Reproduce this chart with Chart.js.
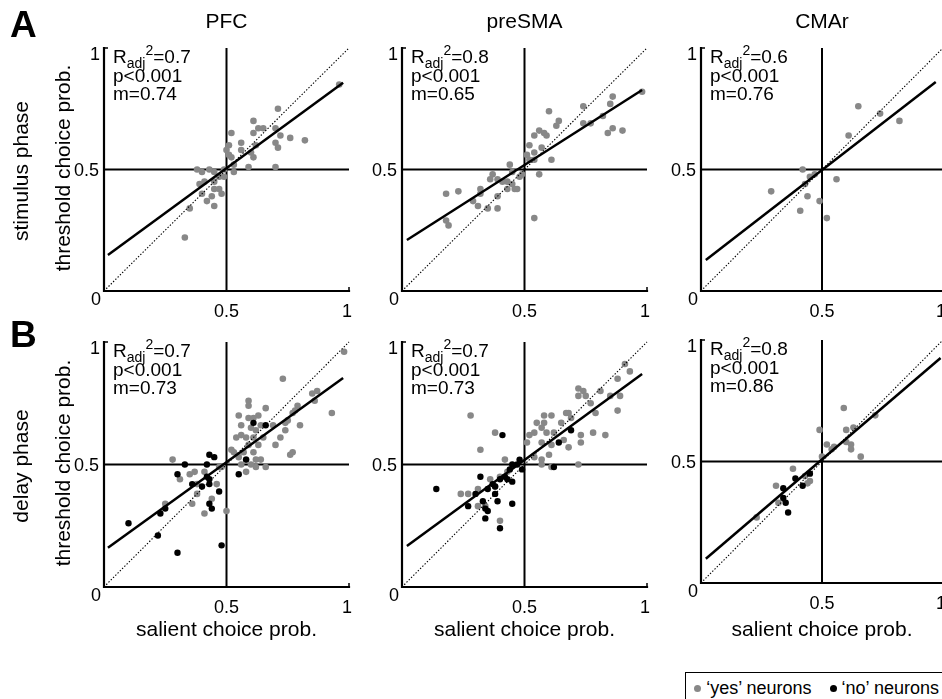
<!DOCTYPE html>
<html><head><meta charset="utf-8">
<script src="https://cdn.jsdelivr.net/npm/chart.js@4.4.1/dist/chart.umd.min.js"></script>
<style>
html,body{margin:0;padding:0;background:#fff;overflow:hidden;}
body{width:942px;height:699px;position:relative;font-family:"Liberation Sans",Arial,Helvetica,sans-serif;color:#000;}
canvas{position:absolute;}
.t{position:absolute;white-space:nowrap;}
.rot{position:absolute;white-space:nowrap;transform:translate(-50%,-50%) rotate(-90deg);}
.ann .sub{font-size:14px;position:relative;top:5px;}
.ann .sup{font-size:14px;position:relative;top:-8px;}
#legend{position:absolute;right:-2px;top:672px;height:40px;border:1.5px solid #000;background:#fff;font-size:18px;line-height:18px;padding:6px 4px 0 8px;white-space:nowrap;}
.dot{display:inline-block;width:7px;height:7px;border-radius:50%;vertical-align:2px;margin-right:5px;}
</style></head><body>
<script>
// ---------- categories / labels ----------
const regions = ['PFC', 'preSMA', 'CMAr'];
const phases = ['stimulus phase', 'delay phase'];
const panelLetters = ['A', 'B'];
const tickLabels = ['0', '0.5', '1'];
const tickValues = [0, 0.5, 1];
const yAxisLabel = 'threshold choice prob.';
const xAxisLabel = 'salient choice prob.';
const legendLabels = ['\u2018yes\u2019 neurons', '\u2018no\u2019 neurons'];
const rAdj2 = [['0.7', '0.8', '0.6'], ['0.7', '0.7', '0.8']];
const pText = [['p<0.001', 'p<0.001', 'p<0.001'], ['p<0.001', 'p<0.001', 'p<0.001']];
const slopes = [['0.74', '0.65', '0.76'], ['0.73', '0.73', '0.86']];

// ---------- data (salient CP, threshold CP) ----------
const pfcStimYes = [[0.96,0.85],[0.71,0.75],[0.61,0.70],[0.63,0.67],[0.65,0.67],[0.61,0.65],[0.70,0.67],[0.52,0.65],[0.72,0.64],[0.76,0.63],[0.82,0.62],[0.70,0.61],[0.71,0.59],[0.51,0.60],[0.56,0.61],[0.62,0.60],[0.50,0.58],[0.56,0.58],[0.60,0.57],[0.61,0.55],[0.51,0.56],[0.52,0.55],[0.59,0.51],[0.70,0.51],[0.53,0.52],[0.53,0.49],[0.38,0.50],[0.43,0.50],[0.40,0.49],[0.45,0.49],[0.47,0.47],[0.41,0.45],[0.45,0.45],[0.39,0.44],[0.45,0.42],[0.47,0.42],[0.48,0.40],[0.40,0.40],[0.44,0.39],[0.42,0.37],[0.45,0.35],[0.35,0.34],[0.33,0.22],[0.49,0.50],[0.49,0.47]];
const pfcStimNo = [];
const presmaStimYes = [[0.98,0.82],[0.86,0.80],[0.85,0.77],[0.74,0.76],[0.60,0.74],[0.82,0.72],[0.64,0.70],[0.63,0.68],[0.74,0.69],[0.77,0.69],[0.56,0.66],[0.54,0.64],[0.58,0.65],[0.59,0.64],[0.84,0.65],[0.86,0.67],[0.90,0.66],[0.52,0.60],[0.57,0.59],[0.54,0.57],[0.51,0.56],[0.52,0.54],[0.54,0.54],[0.61,0.54],[0.56,0.48],[0.44,0.52],[0.45,0.49],[0.49,0.48],[0.48,0.47],[0.37,0.48],[0.36,0.46],[0.39,0.46],[0.41,0.45],[0.43,0.45],[0.45,0.44],[0.43,0.42],[0.46,0.42],[0.47,0.42],[0.32,0.42],[0.32,0.40],[0.23,0.41],[0.18,0.40],[0.29,0.37],[0.31,0.35],[0.39,0.39],[0.35,0.34],[0.39,0.34],[0.18,0.29],[0.19,0.27],[0.54,0.30]];
const presmaStimNo = [];
const cmarStimYes = [[0.65,0.76],[0.74,0.73],[0.82,0.70],[0.61,0.64],[0.42,0.50],[0.45,0.47],[0.47,0.48],[0.43,0.44],[0.56,0.46],[0.29,0.41],[0.44,0.39],[0.49,0.37],[0.41,0.33],[0.52,0.30]];
const cmarStimNo = [];
const pfcDelayYes = [[0.98,0.96],[0.73,0.85],[0.87,0.80],[0.85,0.79],[0.86,0.76],[0.93,0.71],[0.59,0.76],[0.59,0.74],[0.66,0.73],[0.79,0.74],[0.78,0.72],[0.77,0.71],[0.55,0.70],[0.59,0.69],[0.63,0.70],[0.61,0.69],[0.75,0.68],[0.74,0.67],[0.69,0.66],[0.80,0.66],[0.56,0.66],[0.60,0.65],[0.64,0.66],[0.62,0.64],[0.56,0.62],[0.54,0.61],[0.58,0.61],[0.61,0.61],[0.65,0.61],[0.74,0.64],[0.72,0.61],[0.59,0.58],[0.63,0.58],[0.70,0.58],[0.53,0.55],[0.57,0.55],[0.52,0.56],[0.61,0.55],[0.77,0.55],[0.76,0.54],[0.55,0.53],[0.58,0.52],[0.62,0.52],[0.64,0.52],[0.60,0.50],[0.62,0.49],[0.66,0.49],[0.56,0.50],[0.58,0.47],[0.28,0.52],[0.35,0.46],[0.37,0.47],[0.31,0.44],[0.41,0.47],[0.38,0.42],[0.38,0.38],[0.46,0.42],[0.48,0.49],[0.44,0.36],[0.25,0.34],[0.36,0.34],[0.41,0.30],[0.50,0.31],[0.47,0.49]];
const pfcDelayNo = [[0.61,0.67],[0.66,0.66],[0.43,0.54],[0.45,0.53],[0.33,0.50],[0.42,0.50],[0.58,0.52],[0.55,0.46],[0.30,0.46],[0.42,0.45],[0.43,0.44],[0.36,0.42],[0.40,0.41],[0.43,0.42],[0.47,0.39],[0.43,0.34],[0.44,0.32],[0.25,0.32],[0.23,0.30],[0.10,0.26],[0.22,0.21],[0.30,0.14],[0.48,0.17]];
const presmaDelayYes = [[0.91,0.91],[0.93,0.88],[0.88,0.85],[0.72,0.81],[0.74,0.80],[0.72,0.78],[0.75,0.78],[0.81,0.80],[0.85,0.78],[0.89,0.78],[0.88,0.72],[0.77,0.75],[0.28,0.70],[0.68,0.71],[0.67,0.71],[0.58,0.70],[0.61,0.70],[0.69,0.69],[0.79,0.71],[0.55,0.67],[0.58,0.67],[0.65,0.67],[0.57,0.65],[0.54,0.63],[0.59,0.63],[0.62,0.63],[0.52,0.62],[0.73,0.62],[0.78,0.63],[0.83,0.62],[0.38,0.63],[0.32,0.56],[0.51,0.59],[0.57,0.59],[0.61,0.58],[0.66,0.60],[0.68,0.57],[0.73,0.59],[0.60,0.54],[0.57,0.52],[0.54,0.53],[0.57,0.50],[0.61,0.49],[0.72,0.50],[0.42,0.52],[0.43,0.47],[0.40,0.45],[0.36,0.44],[0.31,0.40],[0.27,0.38],[0.24,0.38],[0.31,0.33],[0.34,0.33],[0.40,0.27],[0.38,0.41]];
const presmaDelayNo = [[0.41,0.62],[0.64,0.59],[0.69,0.64],[0.62,0.49],[0.48,0.52],[0.47,0.50],[0.45,0.50],[0.49,0.48],[0.44,0.48],[0.32,0.45],[0.42,0.45],[0.43,0.44],[0.40,0.44],[0.45,0.43],[0.37,0.42],[0.38,0.41],[0.35,0.40],[0.30,0.38],[0.38,0.38],[0.33,0.35],[0.39,0.35],[0.27,0.33],[0.45,0.34],[0.34,0.32],[0.35,0.31],[0.34,0.28],[0.40,0.24],[0.14,0.40]];
const cmarDelayYes = [[0.59,0.72],[0.72,0.69],[0.49,0.63],[0.60,0.63],[0.63,0.64],[0.52,0.57],[0.55,0.56],[0.54,0.55],[0.60,0.58],[0.62,0.57],[0.62,0.55],[0.66,0.52],[0.50,0.52],[0.38,0.47],[0.43,0.44],[0.45,0.42],[0.44,0.41],[0.31,0.40],[0.32,0.33],[0.23,0.27]];
const cmarDelayNo = [[0.45,0.45],[0.39,0.43],[0.42,0.40],[0.34,0.39],[0.34,0.35],[0.35,0.33],[0.36,0.29]];

// regression line end points
const fitPfcStim = [[0.016,0.148],[0.976,0.857]];
const fitPresmaStim = [[0.02,0.21],[0.98,0.827]];
const fitCmarStim = [[0.02,0.128],[0.97,0.86]];
const fitPfcDelay = [[0.016,0.16],[0.976,0.853]];
const fitPresmaDelay = [[0.02,0.167],[0.98,0.869]];
const fitCmarDelay = [[0.02,0.10],[0.99,0.926]];
const identityLine = [[0,0],[1,1]];
const halfVertical = [[0.5,0],[0.5,1]];
const halfHorizontal = [[0,0.5],[1,0.5]];

const yesSets = [[pfcStimYes, presmaStimYes, cmarStimYes], [pfcDelayYes, presmaDelayYes, cmarDelayYes]];
const noSets = [[pfcStimNo, presmaStimNo, cmarStimNo], [pfcDelayNo, presmaDelayNo, cmarDelayNo]];
const fitSets = [[fitPfcStim, fitPresmaStim, fitCmarStim], [fitPfcDelay, fitPresmaDelay, fitCmarDelay]];

// ---------- layout ----------
const geom = [
  [{L:104,T:48,W:245,H:243},{L:402,T:48,W:245,H:243},{L:701,T:48,W:242,H:243}],
  [{L:104,T:342,W:245,H:245},{L:402,T:342,W:245,H:245},{L:701,T:340,W:242,H:243}]
];
const PAD = {left:40, top:20, right:12, bottom:34};
const FONT = '"Liberation Sans", Arial, Helvetica, sans-serif';
const GREY = '#888888';

function pts(a){ return a.map(p => ({x:p[0], y:p[1]})); }

function placeText(html, x, baseline, size, opts={}){
  const d = document.createElement('div');
  d.className = 't' + (opts.cls ? ' ' + opts.cls : '');
  d.innerHTML = html;
  d.style.fontSize = size + 'px';
  d.style.lineHeight = size + 'px';
  d.style.top = (baseline - 0.8465*size) + 'px';
  if (opts.weight) d.style.fontWeight = opts.weight;
  if (opts.align === 'center'){ d.style.left = x + 'px'; d.style.transform = 'translateX(-50%)'; }
  else d.style.left = x + 'px';
  document.body.appendChild(d);
  return d;
}
function placeRot(text, cx, cy, size){
  const d = document.createElement('div');
  d.className = 'rot';
  d.textContent = text;
  d.style.fontSize = size + 'px';
  d.style.lineHeight = size + 'px';
  d.style.left = cx + 'px';
  d.style.top = cy + 'px';
  document.body.appendChild(d);
}

const axesPlugin = {
  id: 'axesPlugin',
  beforeDatasetsDraw(chart){
    const {ctx, scales:{x, y}} = chart;
    const x0 = x.getPixelForValue(0), x1 = x.getPixelForValue(1);
    const y0 = y.getPixelForValue(0), y1 = y.getPixelForValue(1);
    ctx.save();
    ctx.strokeStyle = '#000'; ctx.lineWidth = 2.2; ctx.lineCap = 'square';
    ctx.beginPath(); ctx.moveTo(x0, y1); ctx.lineTo(x0, y0); ctx.lineTo(x1, y0); ctx.stroke();
    ctx.lineWidth = 1.5; ctx.lineCap = 'butt';
    ctx.beginPath(); ctx.moveTo(x0, y1); ctx.lineTo(x0 + 4, y1); ctx.moveTo(x1, y0); ctx.lineTo(x1, y0 - 4); ctx.stroke();
    ctx.restore();
  },
  afterDraw(chart){
    const {ctx, scales:{x, y}} = chart;
    ctx.save();
    ctx.fillStyle = '#000';
    ctx.font = '18px ' + FONT;
    const x0 = x.getPixelForValue(0), y0 = y.getPixelForValue(0);
    ctx.textAlign = 'right'; ctx.textBaseline = 'alphabetic';
    ctx.fillText(tickLabels[0], x0 - 3, y0 + 14);
    ctx.fillText(tickLabels[1], x0 - 5, y.getPixelForValue(tickValues[1]) + 6.5);
    ctx.fillText(tickLabels[2], x0 - 4, y.getPixelForValue(tickValues[2]) + 12);
    ctx.textAlign = 'center';
    ctx.fillText(tickLabels[1], x.getPixelForValue(tickValues[1]), y0 + 26);
    ctx.fillText(tickLabels[2], x.getPixelForValue(tickValues[2]) - 2, y0 + 26);
    ctx.restore();
  }
};

for (let r = 0; r < 2; r++){
  for (let c = 0; c < 3; c++){
    const g = geom[r][c];
    const cv = document.createElement('canvas');
    const cw = g.W + PAD.left + PAD.right, ch = g.H + PAD.top + PAD.bottom;
    cv.width = cw; cv.height = ch;
    cv.style.width = cw + 'px'; cv.style.height = ch + 'px';
    cv.style.left = (g.L - PAD.left) + 'px';
    cv.style.top = (g.T - PAD.top) + 'px';
    document.body.appendChild(cv);
    new Chart(cv, {
      type: 'scatter',
      data: { datasets: [
        {data: pts(fitSets[r][c]), showLine:true, borderColor:'#000', borderWidth:2.5, pointRadius:0, order:0, clip:false},
        {data: pts(identityLine), showLine:true, borderColor:'#000', borderWidth:1.1, borderDash:[1.4,1.8], pointRadius:0, order:1, clip:false},
        {data: pts(noSets[r][c]), pointRadius:3.2, backgroundColor:'#000', borderWidth:0, pointBorderWidth:0, order:2, clip:false},
        {data: pts(yesSets[r][c]), pointRadius:3.3, backgroundColor:GREY, borderWidth:0, pointBorderWidth:0, order:3, clip:false},
        {data: pts(halfVertical), showLine:true, borderColor:'#000', borderWidth:2, pointRadius:0, order:4, clip:false},
        {data: pts(halfHorizontal), showLine:true, borderColor:'#000', borderWidth:2, pointRadius:0, order:5, clip:false}
      ]},
      options: {
        responsive:false, animation:false, events:[],
        layout:{padding:PAD},
        plugins:{legend:{display:false}, tooltip:{enabled:false}},
        scales:{
          x:{type:'linear', min:0, max:1, display:false},
          y:{type:'linear', min:0, max:1, display:false}
        }
      },
      plugins:[axesPlugin]
    });

    placeText('R<span class="sub">adj</span><span class="sup">2</span>=' + rAdj2[r][c], g.L + 9, g.T + 15, 19, {cls:'ann'});
    placeText(pText[r][c].replace('<','&lt;'), g.L + 9, g.T + 34, 19, {cls:'ann'});
    placeText('m=' + slopes[r][c], g.L + 9, g.T + 52, 19, {cls:'ann'});

    if (r === 0) placeText(regions[c], g.L + g.W/2, 28, 21, {align:'center'});
    if (r === 1) placeText(xAxisLabel, g.L + g.W/2, 636, 21, {align:'center'});
    if (c === 0){
      placeRot(yAxisLabel, 62, g.T + g.H/2 - 2, 21);
      placeRot(phases[r], 20, g.T + g.H/2 + 1, 21);
      placeText(panelLetters[r], 10, r === 0 ? 37 : 347, 37, {weight:'bold'});
    }
  }
}

// legend
const lg = document.createElement('div');
lg.id = 'legend';
lg.innerHTML = '<span class="dot" style="background:' + GREY + '"></span>' + legendLabels[0] +
  '<span style="display:inline-block;width:18px"></span><span class="dot" style="background:#000"></span>' + legendLabels[1];
document.body.appendChild(lg);
</script>
</body></html>
